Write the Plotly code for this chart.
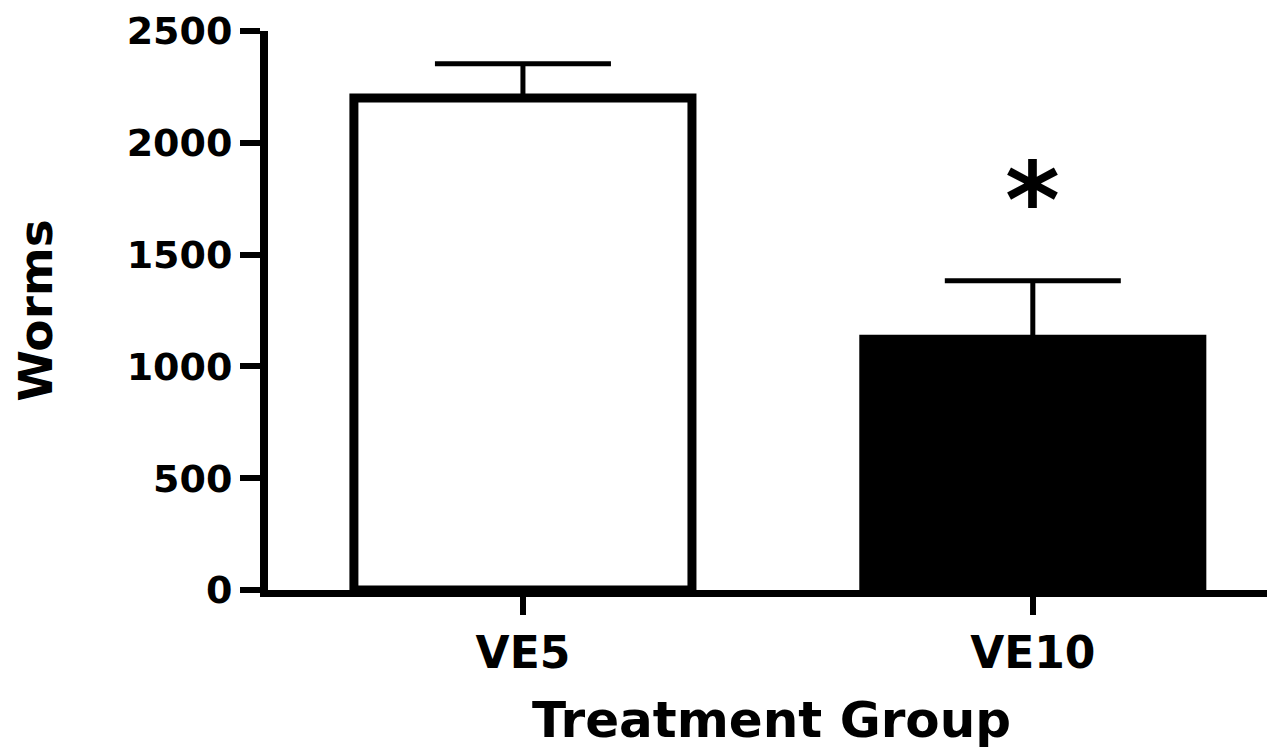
import plotly.graph_objects as go

groups = ["VE5", "VE10"]
worms_mean = [2200, 1121]
worms_sem = [154, 262]
bar_fill = ["white", "black"]
y_ticks = [0, 500, 1000, 1500, 2000, 2500]
sig_marks = ["", "*"]

FONT = "DejaVu Sans"

fig = go.Figure()
fig.add_trace(go.Bar(
    x=groups,
    y=worms_mean,
    width=0.663,
    marker=dict(color=bar_fill, line=dict(color="black", width=9)),
    error_y=dict(type="data", symmetric=False, array=worms_sem,
                 arrayminus=[0] * len(worms_sem),
                 color="black", thickness=5, width=88),
    showlegend=False,
))

for g, m, s, mark in zip(groups, worms_mean, worms_sem, sig_marks):
    if mark:
        fig.add_annotation(x=g, y=m + s, text="<b>" + mark + "</b>", showarrow=False,
                           xref="x", yref="y", yanchor="bottom", yshift=17,
                           font=dict(family=FONT, size=105, color="black"))

fig.update_layout(
    width=1267, height=741,
    margin=dict(l=260, r=0, t=23, b=159),
    plot_bgcolor="white", paper_bgcolor="white",
    bargap=0.3,
    font=dict(family=FONT, color="black"),
)
fig.update_xaxes(
    range=[-0.5, 1.475],
    automargin=False,
    showline=True, linecolor="black", linewidth=7,
    ticks="outside", ticklen=18, tickwidth=6, tickcolor="black",
    tickfont=dict(family=FONT, size=44, color="black", weight="bold"),
    title=dict(text="<b>Treatment Group</b>", font=dict(family=FONT, size=50, color="black"),
               standoff=45),
    showgrid=False, zeroline=False,
)
fig.update_yaxes(
    range=[0, 2500],
    automargin=False,
    tickvals=y_ticks,
    ticklabeloverflow="allow",
    showline=True, linecolor="black", linewidth=8,
    ticks="outside", ticklen=20, tickwidth=6, tickcolor="black",
    tickfont=dict(family=FONT, size=38, color="black", weight="bold"),
    title=dict(text="<b>Worms</b>", font=dict(family=FONT, size=47, color="black"),
               standoff=64),
    showgrid=False, zeroline=False,
)

fig.write_html("out.html")
